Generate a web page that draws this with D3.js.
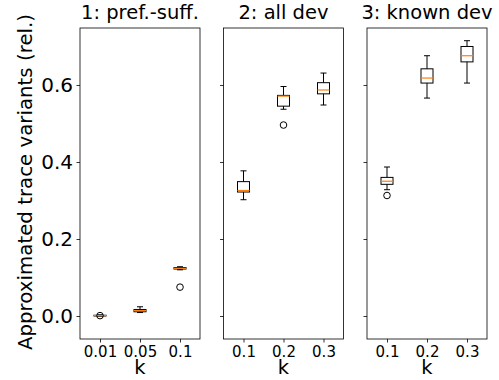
<!DOCTYPE html>
<html><head><meta charset="utf-8">
<script src="https://cdn.jsdelivr.net/npm/d3@7"></script>
<style>body{margin:0;background:#fff}</style>
</head><body>
<svg id="c" width="499" height="380"></svg>
<script>
const titles = ["1: pref.-suff.", "2: all dev", "3: known dev"];
const kLabels = [["0.01","0.05","0.1"],["0.1","0.2","0.3"],["0.1","0.2","0.3"]];
const whiskLow  = [[0.000,0.009,0.120],[0.302,0.537,0.548],[0.328,0.566,0.605]];
const q1        = [[0.000,0.011,0.122],[0.322,0.545,0.577],[0.342,0.605,0.660]];
const medians   = [[0.001,0.014,0.124],[0.326,0.571,0.587],[0.350,0.618,0.676]];
const q3        = [[0.002,0.017,0.126],[0.349,0.573,0.606],[0.360,0.642,0.700]];
const whiskHigh = [[0.003,0.024,0.128],[0.377,0.596,0.631],[0.387,0.676,0.715]];
const outliers  = [[[0.001],[],[0.075]],[[],[0.496],[]],[[0.313],[],[]]];
const yTicks = [0.0, 0.2, 0.4, 0.6];

const svg = d3.select("#c");
const font = "DejaVu Sans, sans-serif";
const panelX = [80, 223.5, 367];
const pw = 120, plotTop = 28, plotBottom = 339;
const y = d3.scaleLinear().domain([-0.0597, 0.748]).range([plotBottom, plotTop]);

titles.forEach((t, p) => {
  const g = svg.append("g");
  const x = d3.scaleLinear().domain([0.5, 3.5]).range([panelX[p], panelX[p] + pw]);
  const xAx = d3.axisBottom(x).tickValues([1,2,3]).tickFormat((d,i)=>kLabels[p][i]).tickSizeOuter(0).tickSize(3.5).tickPadding(3.5);
  const gx = g.append("g").attr("transform", `translate(0,${plotBottom})`).call(xAx);
  gx.select(".domain").remove();
  gx.selectAll("text").attr("font-family", font).attr("font-size", 15).attr("fill","#000");
  gx.selectAll("line").attr("stroke","#000").attr("stroke-width",0.8);
  const yAx = d3.axisLeft(y).tickValues(yTicks).tickFormat(p === 0 ? d3.format(".1f") : () => "").tickSizeOuter(0).tickSize(3.5).tickPadding(3.5);
  const gy = g.append("g").attr("transform", `translate(${panelX[p]},0)`).call(yAx);
  gy.select(".domain").remove();
  gy.selectAll("text").attr("font-family", font).attr("font-size", 20).attr("fill","#000");
  gy.selectAll("line").attr("stroke","#000").attr("stroke-width",0.8);

  const bw = 12, cw = 6;
  [0,1,2].forEach(i => {
    const cx = x(i+1);
    const bg = g.append("g").attr("stroke","#000").attr("stroke-width",1).attr("fill","none");
    bg.append("line").attr("x1",cx).attr("x2",cx).attr("y1",y(whiskLow[p][i])).attr("y2",y(q1[p][i]));
    bg.append("line").attr("x1",cx).attr("x2",cx).attr("y1",y(q3[p][i])).attr("y2",y(whiskHigh[p][i]));
    bg.append("line").attr("x1",cx-cw/2).attr("x2",cx+cw/2).attr("y1",y(whiskLow[p][i])).attr("y2",y(whiskLow[p][i]));
    bg.append("line").attr("x1",cx-cw/2).attr("x2",cx+cw/2).attr("y1",y(whiskHigh[p][i])).attr("y2",y(whiskHigh[p][i]));
    bg.append("rect").attr("x",cx-bw/2).attr("width",bw).attr("y",y(q3[p][i])).attr("height",Math.max(0.5, y(q1[p][i])-y(q3[p][i])));
    g.append("line").attr("x1",cx-bw/2).attr("x2",cx+bw/2).attr("y1",y(medians[p][i])).attr("y2",y(medians[p][i])).attr("stroke","#ff7f0e").attr("stroke-width",1.2);
    outliers[p][i].forEach(o => {
      g.append("circle").attr("cx",cx).attr("cy",y(o)).attr("r",3.3).attr("fill","none").attr("stroke","#000").attr("stroke-width",1);
    });
  });

  g.append("rect").attr("x",panelX[p]).attr("y",plotTop).attr("width",pw).attr("height",plotBottom-plotTop).attr("fill","none").attr("stroke","#000").attr("stroke-width",0.8);
  g.append("text").attr("x",panelX[p]+pw/2).attr("y",19).attr("text-anchor","middle").attr("font-family",font).attr("font-size",19.5).text(t);
  g.append("text").attr("x",panelX[p]+pw/2).attr("y",374).attr("text-anchor","middle").attr("font-family",font).attr("font-size",19.5).text("k");
});

svg.append("text").attr("transform","translate(32,182) rotate(-90)").attr("text-anchor","middle").attr("font-family",font).attr("font-size",19.8).text("Approximated trace variants (rel.)");
</script>
</body></html>
